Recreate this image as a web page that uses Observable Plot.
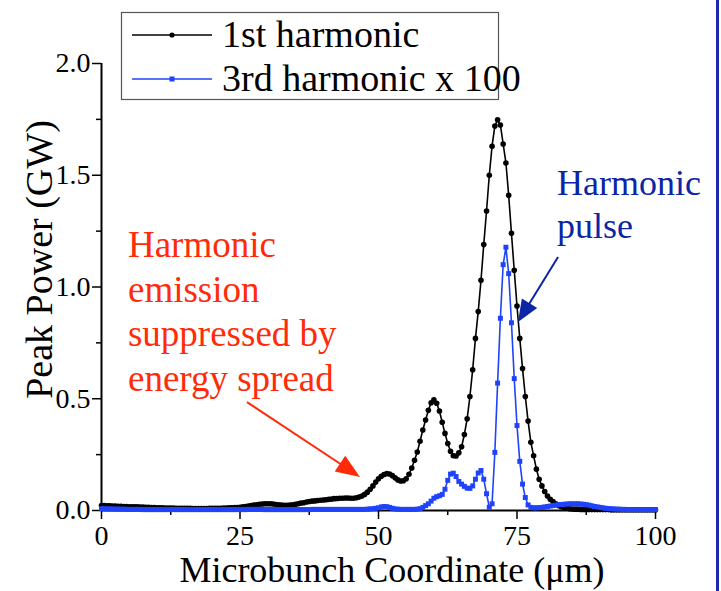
<!DOCTYPE html>
<html><head><meta charset="utf-8">
<script src="https://cdn.jsdelivr.net/npm/d3@7"></script>
<script src="https://cdn.jsdelivr.net/npm/@observablehq/plot@0.6"></script>
<style>
body{margin:0;background:#fff}
#chart{position:relative;width:721px;height:591px;overflow:hidden;background:#fff}
</style>
</head><body><div id="chart"></div>
<script>
// Microbunch coordinate (μm), sampled every 0.5 μm
const coord = [0,0.5,1,1.5,2,2.5,3,3.5,4,4.5,5,5.5,6,6.5,7,7.5,8,8.5,9,9.5,10,10.5,11,11.5,12,12.5,13,13.5,14,14.5,15,15.5,16,16.5,17,17.5,18,18.5,19,19.5,20,20.5,21,21.5,22,22.5,23,23.5,24,24.5,25,25.5,26,26.5,27,27.5,28,28.5,29,29.5,30,30.5,31,31.5,32,32.5,33,33.5,34,34.5,35,35.5,36,36.5,37,37.5,38,38.5,39,39.5,40,40.5,41,41.5,42,42.5,43,43.5,44,44.5,45,45.5,46,46.5,47,47.5,48,48.5,49,49.5,50,50.5,51,51.5,52,52.5,53,53.5,54,54.5,55,55.5,56,56.5,57,57.5,58,58.5,59,59.5,60,60.5,61,61.5,62,62.5,63,63.5,64,64.5,65,65.5,66,66.5,67,67.5,68,68.5,69,69.5,70,70.5,71,71.5,72,72.5,73,73.5,74,74.5,75,75.5,76,76.5,77,77.5,78,78.5,79,79.5,80,80.5,81,81.5,82,82.5,83,83.5,84,84.5,85,85.5,86,86.5,87,87.5,88,88.5,89,89.5,90,90.5,91,91.5,92,92.5,93,93.5,94,94.5,95,95.5,96,96.5,97,97.5,98,98.5,99,99.5,100];

// 1st harmonic peak power (GW)
const firstHarmonic = [
.022,.022,.021,.021,.020,.020,.019,.019,.018,.018,.017,.017,.016,.016,.015,.015,.014,.014,.013,.013,.012,
.012,.012,.011,.011,.011,.011,.010,.010,.010,.010,.010,.010,.009,.009,.009,.009,.009,.009,.010,.010,
.010,.010,.010,.011,.011,.012,.012,.013,.013,.014,
.016,.018,.020,.022,.024,.026,.028,.029,.030,.030,
.030,.029,.027,.025,.024,.023,.023,.024,.026,.028,
.030,.033,.035,.038,.040,.042,.043,.045,.046,.047,
.048,.050,.051,.053,.054,.055,.055,.056,.056,.055,
.055,.057,.060,.065,.072,.082,.095,.110,.127,.142,
.153,.161,.165,.163,.156,.146,.137,.132,.133,.142,
.162,.190,.225,.262,.310,.360,.405,.448,.482,.495,
.480,.445,.395,.345,.300,.265,.245,.244,.258,.285,
.340,.410,.510,.630,.770,.890,1.030,1.190,1.340,1.500,
1.630,1.720,1.748,1.725,1.640,1.555,1.410,1.240,1.075,.915,
.770,.635,.510,.400,.305,.245,.185,.140,.110,.085,
.065,.050,.040,.030,.022,.017,.013,.010,.008,.007,
.006,.006,.005,.005,.005,.004,.004,.004,.004,.004,
.004,.004,.004,.003,.003,.003,.003,.003,.003,.003,
.003,.003,.003,.003,.003,.003,.003,.003,.003,.003];

// 3rd harmonic peak power x 100 (GW)
const thirdHarmonic = [
.008,.008,.007,.007,.007,.006,.006,.006,.006,.005,.005,.005,.005,.005,.005,.004,.004,.004,.004,.004,.004,
.004,.004,.004,.004,.004,.004,.004,.004,.004,.004,.004,.004,.004,.004,.004,.004,.004,.004,.004,.004,
.004,.004,.004,.004,.004,.004,.004,.004,.004,.004,
.004,.004,.005,.005,.005,.005,.005,.005,.004,.004,
.004,.004,.004,.004,.004,.004,.004,.004,.004,.004,
.004,.004,.004,.004,.004,.005,.005,.005,.005,.005,
.005,.005,.005,.005,.005,.005,.005,.005,.005,.005,
.005,.005,.005,.005,.005,.006,.007,.008,.010,.012,
.016,.018,.017,.014,.010,.007,.006,.005,.005,.005,
.005,.005,.005,.006,.008,.014,.022,.030,.042,.055,
.062,.066,.072,.095,.135,.163,.167,.152,.130,.118,
.108,.100,.099,.110,.140,.168,.179,.140,.075,.015,
.030,.260,.570,.860,1.100,1.178,1.060,.840,.590,.380,
.220,.118,.058,.025,.014,.012,.012,.013,.014,.016,
.018,.020,.022,.024,.026,.027,.028,.029,.030,.030,
.030,.030,.029,.028,.026,.024,.021,.018,.016,.014,
.012,.010,.009,.008,.007,.006,.006,.005,.005,.004,
.004,.004,.004,.004,.004,.004,.004,.004,.004,.004];

const xTicks = [0, 25, 50, 75, 100];
const xMinorTicks = [12.5, 37.5, 62.5, 87.5];
const yTicks = [0, 0.5, 1.0, 1.5, 2.0];
const yMinorTicks = [0.25, 0.75, 1.25, 1.75];

const seriesNames = ["1st harmonic", "3rd harmonic x 100"];
const xLabel = "Microbunch Coordinate (μm)";
const yLabel = "Peak Power (GW)";
const redNote = ["Harmonic", "emission", "suppressed by", "energy spread"];
const blueNote = ["Harmonic", "pulse"];

const BLACK = "#000000", BLUE = "#1f43fb";
const RED_TXT = "#ff2b08", BLUE_TXT = "#0b25a6";
const FONT = "'Liberation Serif','Times New Roman',serif";

const first = coord.map((x, i) => ({x, y: firstHarmonic[i]}));
const third = coord.map((x, i) => ({x, y: thirdHarmonic[i]}));

const plot = Plot.plot({
  width: 721, height: 591,
  marginLeft: 101, marginRight: 66, marginTop: 63, marginBottom: 81,
  style: {fontFamily: FONT, fontSize: "28px", color: "black", background: "white", overflow: "visible"},
  x: {domain: [0, 100]},
  y: {domain: [0, 2]},
  marks: [
    Plot.axisX({ticks: xTicks, tickSize: 9, tickPadding: 6, tickFormat: d => String(d), label: null, strokeWidth: 1.5, fontSize: 28}),
    Plot.axisX({ticks: xMinorTicks, tickSize: 5, tickFormat: () => "", label: null, strokeWidth: 1.5}),
    Plot.axisY({ticks: yTicks, tickSize: 9, tickPadding: 2, tickFormat: d3.format(".1f"), label: null, strokeWidth: 1.5, fontSize: 28}),
    Plot.axisY({ticks: yMinorTicks, tickSize: 5, tickFormat: () => "", label: null, strokeWidth: 1.5}),
    Plot.ruleX([0], {stroke: BLACK, strokeWidth: 2}),
    Plot.ruleY([0], {stroke: BLACK, strokeWidth: 2}),
    Plot.line(first, {x: "x", y: "y", stroke: BLACK, strokeWidth: 1.6}),
    Plot.dot(first, {x: "x", y: "y", r: 2.8, fill: BLACK}),
    Plot.line(third, {x: "x", y: "y", stroke: BLUE, strokeWidth: 1.6}),
    Plot.dot(third, {x: "x", y: "y", r: 2.8, symbol: "square", fill: BLUE})
  ]
});

document.getElementById("chart").appendChild(plot);

const svg = d3.select(plot);
const sx = v => plot.scale("x").apply(v);
const sy = v => plot.scale("y").apply(v);

// axis titles
svg.append("text").attr("x", (sx(0) + sx(100)) / 2 + 14).attr("y", 582)
  .attr("text-anchor", "middle").attr("font-family", FONT).attr("font-size", 36).attr("fill", "black").text(xLabel);
svg.append("text").attr("transform", `translate(52,${(sy(0)+sy(2))/2 - 27}) rotate(-90)`)
  .attr("text-anchor", "middle").attr("font-family", FONT).attr("font-size", 38).attr("fill", "black").text(yLabel);

// annotations (anchored in data units)
function note(lines, x, y, color, size, lh) {
  const g = svg.append("g").attr("font-family", FONT).attr("font-size", size).attr("fill", color).attr("text-anchor", "start");
  lines.forEach((t, i) => g.append("text").attr("x", sx(x)).attr("y", sy(y) + i * lh).attr("text-anchor", "start").text(t));
}
function arrow(x0, y0, x1, y1, color, len, half, w) {
  const p0 = [sx(x0), sy(y0)], p1 = [sx(x1), sy(y1)];
  const dx = p1[0] - p0[0], dy = p1[1] - p0[1], L = Math.hypot(dx, dy);
  const ux = dx / L, uy = dy / L;
  const b = [p1[0] - ux * len, p1[1] - uy * len];
  svg.append("line").attr("x1", p0[0]).attr("y1", p0[1]).attr("x2", b[0] + ux * 2).attr("y2", b[1] + uy * 2)
    .attr("stroke", color).attr("stroke-width", w);
  svg.append("path").attr("fill", color)
    .attr("d", `M${p1[0]},${p1[1]}L${b[0] - uy * half},${b[1] + ux * half}L${b[0] + uy * half},${b[1] - ux * half}Z`);
}
note(redNote, 4.87, 1.132, RED_TXT, 37, 44.6);
arrow(26.35, 0.483, 46.75, 0.148, RED_TXT, 24, 9.5, 2);
note(blueNote, 82.3, 1.409, BLUE_TXT, 36, 43);
arrow(82.5, 1.132, 75.27, 0.841, BLUE_TXT, 22, 9, 2);

// legend
const lg = svg.append("g").attr("font-family", FONT).attr("font-size", 38).attr("text-anchor", "start");
lg.append("rect").attr("x", 121.5).attr("y", 12.5).attr("width", 377).attr("height", 87)
  .attr("fill", "white").attr("stroke", "#555").attr("stroke-width", 1.2);
[[BLACK, 35, 47], [BLUE, 79, 91]].forEach(([c, ly, by], i) => {
  lg.append("line").attr("x1", 132).attr("x2", 212).attr("y1", ly).attr("y2", ly).attr("stroke", c).attr("stroke-width", 1.6);
  if (i === 0) lg.append("circle").attr("cx", 172).attr("cy", ly).attr("r", 2.6).attr("fill", c);
  else lg.append("rect").attr("x", 169.5).attr("y", ly - 2.5).attr("width", 5).attr("height", 5).attr("fill", c);
  lg.append("text").attr("x", 222).attr("y", by).attr("text-anchor", "start").attr("fill", "black").text(seriesNames[i]);
});

// slide border at right
svg.append("rect").attr("x", 716).attr("y", 0).attr("width", 3).attr("height", 591).attr("fill", "#1a2aa8");
</script>
</body></html>
